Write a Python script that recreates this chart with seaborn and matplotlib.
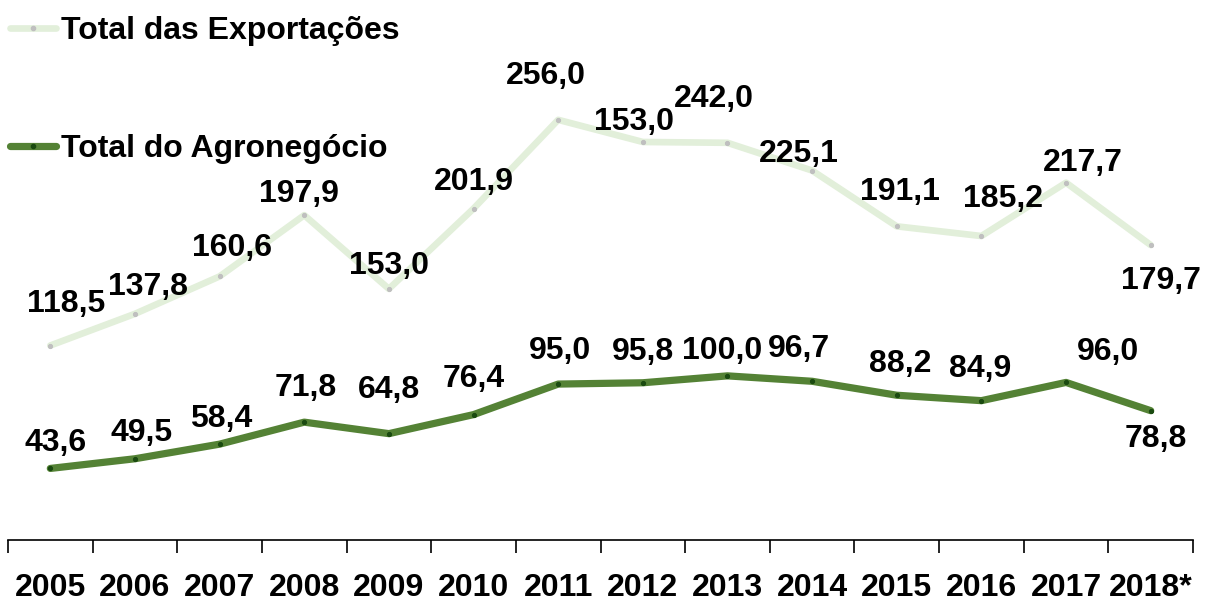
import pandas as pd
import matplotlib.pyplot as plt
import seaborn as sns
from matplotlib.lines import Line2D

anos = ['2005', '2006', '2007', '2008', '2009', '2010', '2011', '2012',
        '2013', '2014', '2015', '2016', '2017', '2018*']

exportacoes = [118.5, 137.8, 160.6, 197.9, 153.0, 201.9, 256.0, 242.5,
               242.0, 225.1, 191.1, 185.2, 217.7, 179.7]
agronegocio = [43.6, 49.5, 58.4, 71.8, 64.8, 76.4, 95.0, 95.8,
               100.0, 96.7, 88.2, 84.9, 96.0, 78.8]

# rotulos como aparecem no grafico original
rot_exp = ['118,5', '137,8', '160,6', '197,9', '153,0', '201,9', '256,0', '153,0',
           '242,0', '225,1', '191,1', '185,2', '217,7', '179,7']
rot_agro = ['43,6', '49,5', '58,4', '71,8', '64,8', '76,4', '95,0', '95,8',
            '100,0', '96,7', '88,2', '84,9', '96,0', '78,8']

# deslocamento dos rotulos (pixels)
desl_exp = [(16, 42), (13, 27), (12, 28), (-5, 21), (0, 23), (0, 27), (-12, 44), (-9, 20),
            (-14, 44), (-13, 17), (3, 34), (22, 37), (17, 20), (10, -36)]
desl_agro = [(5, 25), (7, 26), (2, 25), (2, 34), (0, 44), (0, 36), (2, 33), (0, 31),
             (-5, 25), (-13, 32), (3, 31), (-1, 32), (42, 30), (5, -28)]

df = pd.DataFrame({'x': range(len(anos)), 'exp': exportacoes, 'agro': agronegocio})

cor_clara = '#e2efda'
cor_escura = '#548235'

plt.rcParams['font.family'] = ['Liberation Sans', 'DejaVu Sans']
plt.rcParams['font.weight'] = 'bold'

fig = plt.figure(figsize=(12.09, 6.11), dpi=100)
ax = fig.add_axes([8 / 1209, 71 / 611, 1185 / 1209, 540 / 611])

sns.lineplot(data=df, x='x', y='exp', ax=ax, color=cor_clara, linewidth=4.8,
             solid_capstyle='round', marker='o', markersize=3,
             markerfacecolor='#bfbfbf', markeredgecolor='#bfbfbf')
sns.lineplot(data=df, x='x', y='agro', ax=ax, color=cor_escura, linewidth=5.2,
             solid_capstyle='round', marker='o', markersize=3,
             markerfacecolor='#1a4a10', markeredgecolor='#1a4a10')

fs = 23
for i in range(len(anos)):
    dx, dy = desl_exp[i]
    ax.annotate(rot_exp[i], (i, exportacoes[i]), xytext=(dx * 0.72, dy * 0.72),
                textcoords='offset points', ha='center', va='center',
                fontsize=fs, fontweight='bold')
    dx, dy = desl_agro[i]
    ax.annotate(rot_agro[i], (i, agronegocio[i]), xytext=(dx * 0.72, dy * 0.72),
                textcoords='offset points', ha='center', va='center',
                fontsize=fs, fontweight='bold')

ax.set_xlim(-0.5, len(anos) - 0.5)
ax.set_ylim(0, 329)
ax.set_xticks(range(len(anos)))
ax.set_xticklabels(anos, fontsize=fs, fontweight='bold')
ax.set_xticks([i - 0.5 for i in range(len(anos) + 1)], minor=True)
ax.tick_params(axis='x', which='major', length=0, pad=24)
ax.tick_params(axis='x', which='minor', length=9, width=1.2, direction='out')
ax.set_yticks([])
ax.set_xlabel('')
ax.set_ylabel('')
for s in ['top', 'right', 'left']:
    ax.spines[s].set_visible(False)
ax.spines['bottom'].set_linewidth(1.2)

handles = [
    Line2D([], [], color=cor_clara, linewidth=4.8, solid_capstyle='round',
           marker='o', markersize=3, markerfacecolor='#bfbfbf', markeredgecolor='#bfbfbf'),
    Line2D([], [], color=cor_escura, linewidth=5.2, solid_capstyle='round',
           marker='o', markersize=3, markerfacecolor='#1a4a10', markeredgecolor='#1a4a10'),
]
fig.legend(handles, ['Total das Exportações', 'Total do Agronegócio'],
           loc='upper left', bbox_to_anchor=(-6 / 1209, 1.0), frameon=False,
           prop={'size': fs, 'weight': 'bold'}, handlelength=1.45,
           handletextpad=0.15, labelspacing=2.75, borderaxespad=0.3, borderpad=0.2)

fig.savefig('out.png', dpi=100)
